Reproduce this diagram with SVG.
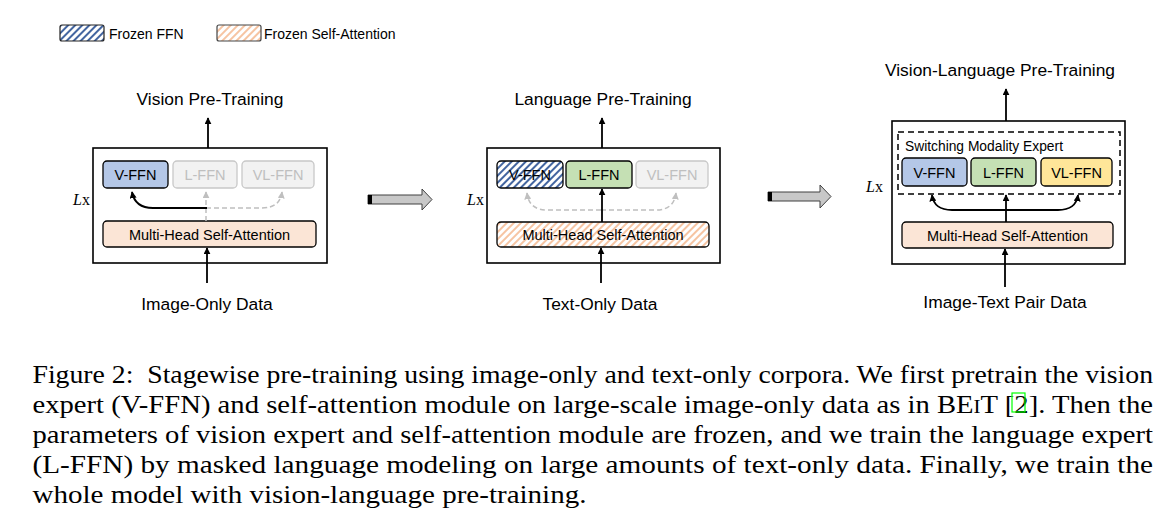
<svg xmlns="http://www.w3.org/2000/svg" width="1170" height="527" viewBox="0 0 1170 527">
<style>
.sans{font-family:"Liberation Sans",Arial,sans-serif;}
.serif{font-family:"Liberation Serif","Times New Roman",serif;}
.title{font-size:17.4px;fill:#000;text-anchor:middle;}
.lbl{font-size:14.5px;fill:#000;text-anchor:middle;}
.glbl{font-size:14.5px;fill:#bfbfbf;text-anchor:middle;}
.leg{font-size:14px;fill:#000;}
.outer{fill:#fff;stroke:#000;stroke-width:1.6;}
.ffn{stroke:#000;stroke-width:1.3;}
.gray{fill:#f2f2f2;stroke:#c8c8c8;stroke-width:1.3;}
.arr{fill:none;stroke:#000;stroke-width:1.8;marker-end:url(#ah);}
.darr{fill:none;stroke:#bfbfbf;stroke-width:1.5;stroke-dasharray:5,3;marker-end:url(#gh);}
.lx{font-size:16px;fill:#000;}
.cap{font-size:24.5px;fill:#000;}
.blk{fill:#c8c8c8;stroke:#404040;stroke-width:1;}
</style>
<defs>
<marker id="ah" viewBox="0 0 10 10" refX="9" refY="5" markerWidth="7" markerHeight="7" markerUnits="userSpaceOnUse" orient="auto"><path d="M0,0 L10,5 L0,10 z" fill="#000"/></marker>
<marker id="gh" viewBox="0 0 10 10" refX="9" refY="5" markerWidth="7" markerHeight="7" markerUnits="userSpaceOnUse" orient="auto"><path d="M0,0 L10,5 L0,10 z" fill="#bfbfbf"/></marker>
<pattern id="blueHatch" width="5" height="5" patternUnits="userSpaceOnUse" patternTransform="rotate(45)"><rect width="5" height="5" fill="#fff"/><line x1="1" y1="0" x2="1" y2="5" stroke="#2f5597" stroke-width="1.8"/></pattern>
<pattern id="orangeHatch" width="5" height="5" patternUnits="userSpaceOnUse" patternTransform="rotate(45)"><rect width="5" height="5" fill="#fff"/><line x1="1" y1="0" x2="1" y2="5" stroke="#f4b183" stroke-width="1.5"/></pattern>
</defs>
<rect width="1170" height="527" fill="#fff"/>

<g id="legend">
<rect x="60" y="25" width="44" height="16" rx="2" fill="url(#blueHatch)" stroke="#222" stroke-width="1.2"/>
<text class="sans leg" x="109" y="38.5">Frozen FFN</text>
<rect x="217" y="25" width="44" height="16" rx="2" fill="url(#orangeHatch)" stroke="#444" stroke-width="1.2"/>
<text class="sans leg" x="264" y="38.5">Frozen Self-Attention</text>
</g>

<!-- Panel 1 -->
<g id="panel1">
<rect class="outer" x="93" y="148" width="234" height="115"/>
<text class="sans title" x="210" y="105">Vision Pre-Training</text>
<text class="serif lx" x="73" y="205"><tspan font-style="italic">L</tspan>x</text>
<g id="p1-vffn"><rect class="ffn" x="103" y="161" width="65" height="27" rx="4" fill="#b4c7e7"/><text class="sans lbl" x="135.5" y="180">V-FFN</text></g>
<g id="p1-lffn"><rect class="gray" x="173" y="161" width="64" height="27" rx="4"/><text class="sans glbl" x="205" y="180">L-FFN</text></g>
<g id="p1-vlffn"><rect class="gray" x="242" y="161" width="72" height="27" rx="4"/><text class="sans glbl" x="278" y="180">VL-FFN</text></g>
<g id="p1-mhsa"><rect class="ffn" x="103" y="221" width="213" height="26" rx="4" fill="#fbe5d6"/><text class="sans lbl" x="209.5" y="239.5">Multi-Head Self-Attention</text></g>
<text class="sans title" x="207" y="310">Image-Only Data</text>
</g>

<!-- Panel 2 -->
<g id="panel2">
<rect class="outer" x="487" y="148" width="233" height="115"/>
<text class="sans title" x="603" y="105">Language Pre-Training</text>
<text class="serif lx" x="467" y="205"><tspan font-style="italic">L</tspan>x</text>
<g id="p2-vffn"><rect class="ffn" x="497" y="161" width="66" height="27" rx="4" fill="url(#blueHatch)"/><text class="sans lbl" x="530" y="180">V-FFN</text></g>
<g id="p2-lffn"><rect class="ffn" x="566" y="161" width="66" height="27" rx="4" fill="#c5e0b4"/><text class="sans lbl" x="599" y="180">L-FFN</text></g>
<g id="p2-vlffn"><rect class="gray" x="636" y="161" width="72" height="27" rx="4"/><text class="sans glbl" x="672" y="180">VL-FFN</text></g>
<g id="p2-mhsa"><rect class="ffn" x="497" y="222" width="212" height="25" rx="4" fill="url(#orangeHatch)"/><text class="sans lbl" x="603" y="240">Multi-Head Self-Attention</text></g>
<text class="sans title" x="600" y="310">Text-Only Data</text>
</g>

<!-- Panel 3 -->
<g id="panel3">
<rect class="outer" x="892" y="121" width="233" height="143"/>
<text class="sans title" x="1000" y="76">Vision-Language Pre-Training</text>
<text class="serif lx" x="866" y="192"><tspan font-style="italic">L</tspan>x</text>
<g id="p3-sme"><rect x="898" y="132" width="222" height="62" fill="none" stroke="#000" stroke-width="1.5" stroke-dasharray="6,4"/><text class="sans" x="905" y="151" font-size="13.8">Switching Modality Expert</text></g>
<g id="p3-vffn"><rect class="ffn" x="902" y="158" width="65" height="28" rx="4" fill="#b4c7e7"/><text class="sans lbl" x="934.5" y="177.5">V-FFN</text></g>
<g id="p3-lffn"><rect class="ffn" x="971" y="158" width="65" height="28" rx="4" fill="#c5e0b4"/><text class="sans lbl" x="1003.5" y="177.5">L-FFN</text></g>
<g id="p3-vlffn"><rect class="ffn" x="1041" y="158" width="71" height="28" rx="4" fill="#ffe699"/><text class="sans lbl" x="1076.5" y="177.5">VL-FFN</text></g>
<g id="p3-mhsa"><rect class="ffn" x="902" y="222" width="211" height="26" rx="4" fill="#fbe5d6"/><text class="sans lbl" x="1007.5" y="240.5">Multi-Head Self-Attention</text></g>
<text class="sans title" x="1005" y="308">Image-Text Pair Data</text>
</g>

<g id="connectors">
<!-- panel 1 -->
<path class="arr" d="M208,148 L208,118"/>
<path class="arr" d="M207,283 L207,248"/>
<path class="darr" d="M206,221 L206,192"/>
<path class="darr" d="M206,208 L262,208 Q280,208 282,192"/>
<path class="arr" d="M207,208 L153,208 Q135,208 132,192"/>
<!-- panel 2 -->
<path class="arr" d="M602,148 L602,118"/>
<path class="arr" d="M601,283 L601,248"/>
<path class="darr" d="M601,210 L547,210 Q529,210 527,193"/>
<path class="darr" d="M601,210 L656,210 Q674,210 676,193"/>
<path class="arr" d="M602,222 L602,189"/>
<!-- panel 3 -->
<path class="arr" d="M1006,121 L1006,89"/>
<path class="arr" d="M1005,287 L1005,249"/>
<path class="arr" d="M1006,222 L1006,195"/>
<path class="arr" d="M1006,210 L952,210 Q934,210 932,195"/>
<path class="arr" d="M1006,210 L1058,210 Q1076,210 1078,195"/>
<!-- block arrows -->
<g id="blockArrow1">
<polygon class="blk" points="368,195 422,195 422,189 432,199.5 422,210 422,204 368,204"/>
<rect x="368" y="195" width="4" height="9" fill="#000"/>
</g>
<g id="blockArrow2">
<polygon class="blk" points="768,192 820,192 820,185 831,196.5 820,208 820,201 768,201"/>
<rect x="768" y="192" width="4" height="9" fill="#000"/>
</g>
</g>

<g id="caption">
<text class="serif cap" x="32.5" y="383" textLength="1120.5" lengthAdjust="spacingAndGlyphs" xml:space="preserve">Figure 2:  Stagewise pre-training using image-only and text-only corpora. We first pretrain the vision</text>
<text class="serif cap" x="32.5" y="413" textLength="1120.5" lengthAdjust="spacingAndGlyphs">expert (V-FFN) and self-attention module on large-scale image-only data as in BE<tspan font-size="18">I</tspan>T [2]. Then the</text>
<text class="serif cap" x="32.5" y="443" textLength="1120.5" lengthAdjust="spacingAndGlyphs">parameters of vision expert and self-attention module are frozen, and we train the language expert</text>
<text class="serif cap" x="32.5" y="473" textLength="1120.5" lengthAdjust="spacingAndGlyphs">(L-FFN) by masked language modeling on large amounts of text-only data. Finally, we train the</text>
<text class="serif cap" x="32.5" y="503" textLength="554" lengthAdjust="spacingAndGlyphs">whole model with vision-language pre-training.</text>
<rect x="1012" y="393" width="13" height="19" fill="none" stroke="#00ff00" stroke-width="1.2"/>
</g>
</svg>
